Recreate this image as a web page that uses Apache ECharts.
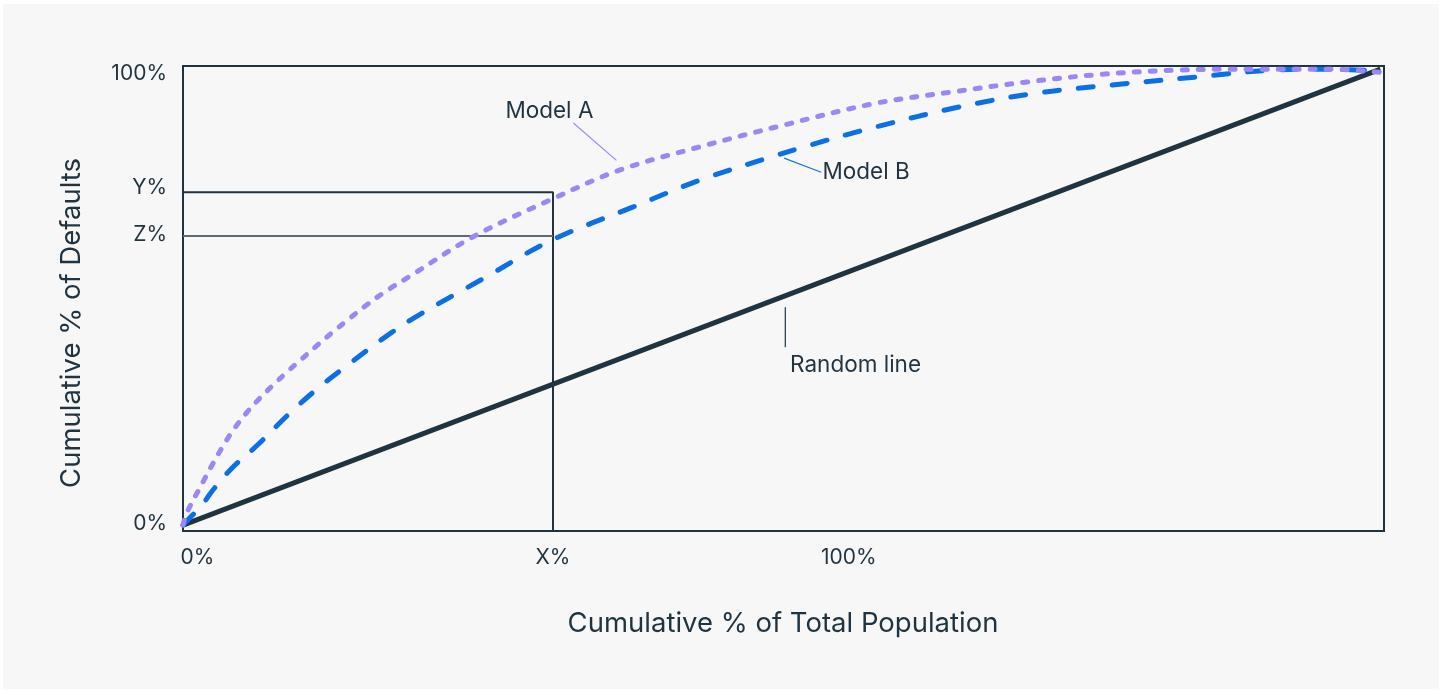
<!DOCTYPE html>
<html>
<head>
<meta charset="utf-8">
<script src="https://cdn.jsdelivr.net/npm/echarts@6/dist/echarts.min.js"></script>
<style>
  html, body { margin: 0; padding: 0; background: #fff; }
  #chart { width: 1442px; height: 690px; }
</style>
</head>
<body>
<div id="chart"></div>
<script>
// cumulative % of population (x) / % of defaults (y)
const modelAX = [0, 0.3, 1.7, 2.5, 3.4, 4.3, 5.3, 6.4, 7.4, 8.7, 9.9, 11.2, 12.5, 13.9, 15.3, 17.0, 18.9, 24.2, 30.9, 36.5, 43.2, 50.1, 57.8, 64.2, 70.5, 76.8, 83.1, 89.4, 95.7, 100];
const modelAY = [0, 2.6, 9.6, 13.5, 17.6, 21.2, 24.6, 27.8, 30.4, 33.6, 36.4, 39.4, 42.3, 45.3, 48.2, 51.4, 54.5, 63.2, 71.6, 77.9, 83.0, 87.7, 92.5, 95.0, 97.2, 98.9, 99.8, 100, 100, 99.3];
const modelBX = [0, 0.4, 1.7, 2.5, 4.2, 6.2, 8.9, 11.4, 13.9, 16.7, 19.2, 25.1, 30.8, 37.6, 43.2, 48.7, 52.3, 57.8, 64.8, 71.1, 77.4, 84.7, 91.0, 95.5, 100];
const modelBY = [0, 1.1, 4.8, 7.7, 12.8, 17.5, 24.5, 30.3, 35.4, 40.9, 45.3, 54.1, 62.5, 69.8, 75.7, 80.4, 83.3, 87.3, 91.7, 94.7, 96.5, 98.3, 99.8, 100, 99.6];
const randomX = [0, 100];
const randomY = [0, 100];

// the X% / Y% / Z% marker values
const markX = 30.9;
const markY = 73.0;
const markZ = 63.4;

// tick labels and where they sit
const xTickValues = [1.2, 30.9, 55.6];
const xTickLabels = ['0%', 'X%', '100%'];
const yTickValues = [0.4, 63.8, 74.1, 99.1];
const yTickLabels = ['0%', 'Z%', 'Y%', '100%'];

// callouts: [text, leader start, leader end, text anchor]
const callouts = [
  ['Model A', [32.6, 88.2], [36.2, 80.0], [30.6, 90.8], 'center', '#9b8af6'],
  ['Model B', [50.2, 80.5], [53.3, 77.4], [53.4, 77.4], 'left', '#1672e6'],
  ['Random line', [50.3, 47.8], [50.3, 39.0], [50.7, 35.1], 'left', '#1f3340']
];

const INK = '#1f3340';
const FONT = 'Inter, Lato, sans-serif';

function zip (xs, ys) {
  return xs.map((x, i) => [x, ys[i]]);
}
function labelFor (values, labels) {
  return (v) => {
    const i = values.findIndex((t) => Math.abs(t - v) < 1e-6);
    return i >= 0 ? labels[i] : '';
  };
}

const myChart = echarts.init(document.getElementById('chart'));
const yMin = -1.3;

myChart.setOption({
  backgroundColor: '#fff',
  animation: false,
  grid: {
    left: 183,
    top: 66,
    width: 1201,
    height: 465,
    show: true,
    borderColor: INK,
    borderWidth: 2,
    backgroundColor: 'transparent'
  },
  xAxis: {
    type: 'value',
    min: 0,
    max: 100.3,
    axisLine: { show: false },
    axisTick: { show: false },
    splitLine: { show: false },
    axisLabel: {
      customValues: xTickValues,
      formatter: labelFor(xTickValues, xTickLabels),
      color: INK,
      fontSize: 21,
      fontFamily: FONT,
      margin: 16
    }
  },
  yAxis: {
    type: 'value',
    min: yMin,
    max: 100.7,
    axisLine: { show: false },
    axisTick: { show: false },
    splitLine: { show: false },
    axisLabel: {
      customValues: yTickValues,
      formatter: labelFor(yTickValues, yTickLabels),
      color: INK,
      fontSize: 21,
      fontFamily: FONT,
      margin: 16
    }
  },
  series: [
    {
      name: 'Y box',
      type: 'line',
      data: [[0, markY], [markX, markY], [markX, yMin]],
      symbol: 'none',
      lineStyle: { color: INK, width: 2 },
      z: 1
    },
    {
      name: 'Z line',
      type: 'line',
      data: [[0, markZ], [markX, markZ]],
      symbol: 'none',
      lineStyle: { color: '#5c6b74', width: 2 },
      z: 1
    },
    {
      name: 'Random line',
      type: 'line',
      data: zip(randomX, randomY),
      symbol: 'none',
      lineStyle: { color: INK, width: 5 },
      z: 3
    },
    {
      name: 'Model B',
      type: 'line',
      data: zip(modelBX, modelBY),
      symbol: 'none',
      smooth: 0.35,
      lineStyle: { color: '#0b70e8', width: 5, type: [15, 19], cap: 'round' },
      z: 4
    },
    {
      name: 'Model A',
      type: 'line',
      data: zip(modelAX, modelAY),
      symbol: 'none',
      smooth: 0.35,
      lineStyle: { color: '#9a88f7', width: 5, type: [5, 11], cap: 'round' },
      z: 5
    }
  ]
});

// callouts and axis titles placed from data coordinates
const px = (p) => myChart.convertToPixel({ gridIndex: 0 }, p);
const graphics = [
  {
    type: 'rect',
    shape: { x: 3, y: 4, width: 1436, height: 685 },
    style: { fill: '#f7f7f7' },
    z: -10,
    silent: true
  },
  {
    type: 'text',
    x: 783,
    y: 624,
    style: {
      text: 'Cumulative % of Total Population',
      fill: INK,
      font: '27.5px ' + FONT,
      textAlign: 'center',
      textVerticalAlign: 'middle'
    }
  },
  {
    type: 'text',
    x: 72,
    y: 323,
    rotation: Math.PI / 2,
    style: {
      text: 'Cumulative % of Defaults',
      fill: INK,
      font: '27.5px ' + FONT,
      textAlign: 'center',
      textVerticalAlign: 'middle'
    }
  }
];
callouts.forEach(([text, a, b, t, align, color]) => {
  const p1 = px(a);
  const p2 = px(b);
  const pt = px(t);
  graphics.push({
    type: 'line',
    shape: { x1: p1[0], y1: p1[1], x2: p2[0], y2: p2[1] },
    style: { stroke: color, lineWidth: 1.2 },
    z: 10
  });
  graphics.push({
    type: 'text',
    x: pt[0],
    y: pt[1],
    style: {
      text: text,
      fill: INK,
      font: '22.5px ' + FONT,
      textAlign: align,
      textVerticalAlign: 'middle'
    },
    z: 10
  });
});
myChart.setOption({ graphic: graphics });
</script>
</body>
</html>
